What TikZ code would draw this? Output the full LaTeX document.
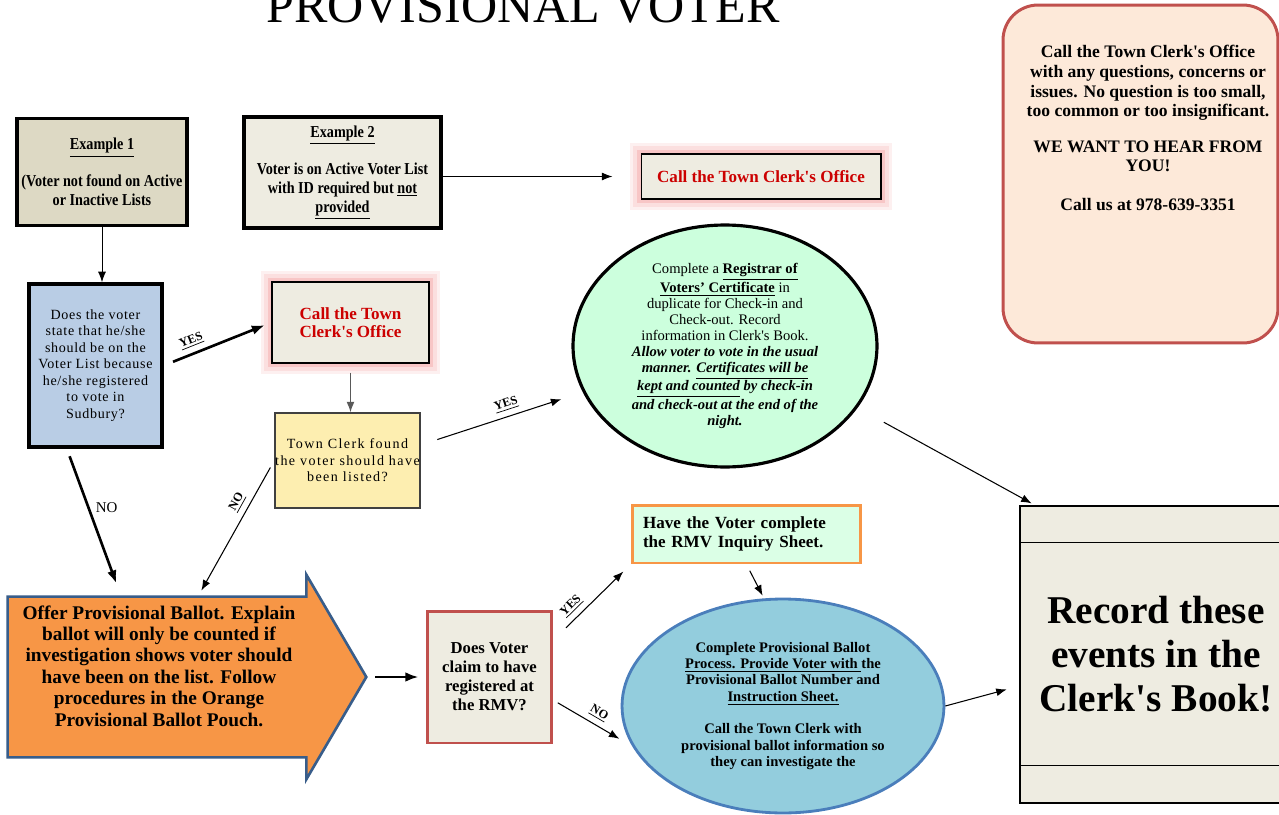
\documentclass[tikz,border=0pt]{standalone}
\usepackage{fontspec}
\setmainfont{Liberation Serif}[Ligatures=TeXOff]
\newfontfamily\narrowfont{Liberation Serif}[FakeStretch=0.85, Ligatures=TeXOff]
\newfontfamily\spacedfont{Liberation Serif}[LetterSpace=5, Ligatures=TeXOff]
\newfontfamily\widefont{Liberation Serif}[LetterSpace=10, Ligatures=TeXOff]
\usetikzlibrary{shapes.geometric,arrows.meta}

\definecolor{examplefill}{HTML}{DDD9C4}
\definecolor{paper}{HTML}{EEECE1}
\definecolor{questionblue}{HTML}{B9CDE5}
\definecolor{foundyellow}{HTML}{FDEEB0}
\definecolor{certgreen}{HTML}{CCFFDD}
\definecolor{rmvgreen}{HTML}{DBFFE6}
\definecolor{ballotorange}{HTML}{F79646}
\definecolor{ballotedge}{HTML}{385D8A}
\definecolor{processblue}{HTML}{93CDDD}
\definecolor{processedge}{HTML}{4A7EBB}
\definecolor{notefill}{HTML}{FDE9D9}
\definecolor{noteedge}{HTML}{C0504D}
\definecolor{clerkred}{HTML}{CC0000}
\definecolor{glowpink}{HTML}{F08080}

\tikzset{
  box/.style={rectangle, align=center, inner sep=0pt},
  heavybox/.style={box, draw, line width=2pt},
  callbox/.style={box, draw, line width=0.6pt, fill=paper, text=clerkred,
    font=\bfseries\fontsize{9.7}{10.3}\selectfont,
    preaction={draw=glowpink!12, line width=13pt, rounded corners=4pt},
    preaction={draw=glowpink!25, line width=9pt, rounded corners=3pt},
    preaction={draw=glowpink!45, line width=5pt, rounded corners=2pt}},
  link/.style={-{Latex[length=6pt,width=4.5pt]}, line width=0.6pt},
  heavylink/.style={-{Latex[length=7.5pt,width=5.5pt]}, line width=1.5pt},
  tag/.style={font=\bfseries\fontsize{7}{8}\selectfont, inner sep=1pt},
}

\begin{document}
\begin{tikzpicture}[x=0.02cm, y=-0.02cm]
 \fill[white] (0,0) rectangle (1279,815);
 \useasboundingbox (0,0) rectangle (1279,815);

 % heading, cut by the top edge
 \node[anchor=base, inner sep=0pt, font=\fontsize{28.5}{30}\selectfont] (title) at (523,22) {PROVISIONAL VOTER};

 % the two starting cases
 \node[heavybox, fill=examplefill, minimum width=3.4cm, minimum height=2.14cm, font=\narrowfont\bfseries\fontsize{9.5}{10.8}\selectfont] (ex1) at (102,172) {\underline{Example 1}\\[10pt](Voter not found on Active\\or Inactive Lists};
 \node[heavybox, fill=paper, minimum width=3.94cm, minimum height=2.22cm, font=\narrowfont\bfseries\fontsize{9.5}{10.8}\selectfont] (ex2) at (342.5,172.5) {\underline{Example 2}\\[10pt]Voter is on Active Voter List\\with ID required but \underline{not}\\\underline{provided}};
 \node[callbox, minimum width=4.8cm, minimum height=0.9cm] (call1) at (761,176.5) {Call the Town Clerk's Office};

 % note in the corner
 \node[box, draw=noteedge, line width=1.7pt, fill=notefill, rounded corners=0.7cm, minimum width=5.5cm, minimum height=6.76cm] (note) at (1140.5,174) {};
 \node[box, anchor=north, font=\bfseries\fontsize{10}{11.2}\selectfont] (notetext) at (1148,45) {Call the Town Clerk's Office\\with any questions, concerns or\\issues. No question is too small,\\too common or too insignificant.\\[9pt]WE WANT TO HEAR FROM\\YOU!\\[11pt]Call us at 978-639-3351};

 % questions
 \node[heavybox, fill=questionblue, minimum width=2.66cm, minimum height=3.26cm, font=\spacedfont\fontsize{8}{9.4}\selectfont] (question) at (95.5,365.5) {Does the voter\\state that he/she\\should be on the\\Voter List because\\he/she registered\\to vote in\\Sudbury?};
 \node[callbox, minimum width=3.14cm, minimum height=1.62cm] (call2) at (350.5,322.5) {Call the Town\\Clerk's Office};
 \node[box, draw=black!75, line width=0.8pt, fill=foundyellow, minimum width=2.9cm, minimum height=1.9cm, font=\widefont\fontsize{8}{9.4}\selectfont] (found) at (347.5,460.5) {Town Clerk found\\the voter should have\\been listed?};

 \node[ellipse, draw, line width=1.8pt, fill=certgreen, minimum width=6.08cm, minimum height=4.84cm, inner sep=0pt, align=center, font=\fontsize{8.3}{9.1}\selectfont] (certificate) at (725,346) {Complete a \underline{\textbf{Registrar of}}\\\underline{\textbf{Voters’ Certificate}} in\\duplicate for Check-in and\\Check-out. Record\\information in Clerk's Book.\\\textbf{\textit{Allow voter to vote in the usual}}\\\textbf{\textit{manner. \underline{Certificates will be}}}\\\textbf{\textit{\underline{kept and counted} by check-in}}\\\textbf{\textit{and check-out at the end of the}}\\\textbf{\textit{night.}}};

 % provisional ballot
 \node[box, minimum width=5.96cm, minimum height=3.2cm] (offer) at (157,677) {};
 \draw[fill=ballotorange, draw=ballotedge, line width=1.5pt] (offer.north west) -- (offer.north east) -- ++(0,-22) -- ([xshift=1.2cm]offer.east) coordinate (tip) -- ([yshift=-0.44cm]offer.south east) -- (offer.south east) -- (offer.south west) -- cycle;
 \node[box, font=\bfseries\fontsize{11}{12.2}\selectfont] (offertext) at (159,666) {Offer Provisional Ballot. Explain\\ballot will only be counted if\\investigation shows voter should\\have been on the list. Follow\\procedures in the Orange\\Provisional Ballot Pouch.};

 \node[box, draw=noteedge, line width=1.7pt, fill=paper, minimum width=2.5cm, minimum height=2.64cm, font=\bfseries\fontsize{9.5}{10.8}\selectfont] (rmv) at (489.5,677) {Does Voter\\claim to have\\registered at\\the RMV?};
 \node[box, draw=ballotorange, line width=1.7pt, fill=rmvgreen, minimum width=4.58cm, minimum height=1.16cm, text width=4.14cm, align=left, font=\bfseries\fontsize{9.7}{10.8}\selectfont] (inquiry) at (746.5,534) {Have the Voter complete\\the RMV Inquiry Sheet.};
 \node[ellipse, draw=processedge, line width=1.6pt, fill=processblue, minimum width=6.44cm, minimum height=4.28cm, inner sep=0pt, align=center, font=\bfseries\fontsize{8.3}{9.3}\selectfont] (process) at (783,706) {Complete Provisional Ballot\\\underline{Process. Provide Voter with }the\\Provisional Ballot Number and\\\underline{Instruction Sheet.}\\[9.3pt]Call the Town Clerk with\\provisional ballot information so\\they can investigate the};

 % clerk's book
 \node[box, draw, line width=0.8pt, fill=paper, minimum width=5.44cm, minimum height=5.94cm, font=\bfseries\fontsize{22.4}{25}\selectfont] (record) at (1156,654.5) {Record these\\events in the\\Clerk's Book!};
 \draw[line width=0.8pt] ([yshift=-0.74cm]record.north west) -- ([yshift=-0.74cm]record.north east);
 \draw[line width=0.8pt] ([yshift=0.76cm]record.south west) -- ([yshift=0.76cm]record.south east);

 % connectors
 \draw[link, shorten >=0.56cm] (ex2.east |- call1.west) -- (call1.west);
 \draw[link, line width=0.5pt] (ex1.south) -- (ex1.south |- question.north);
 \draw[heavylink, shorten <=0.2cm, shorten >=0.14cm] (question.east) -- node[tag, sloped, above=2pt, pos=0.3] (yes1) {\underline{YES}} (call2.west);
 \draw[link, draw=black!65, shorten <=0.18cm] (call2.south) -- (call2.south |- found.north);
 \draw[link, shorten <=0.35cm, shorten >=0.45cm] (found.12) -- node[tag, sloped, above=2pt, pos=0.55] (yes2) {\underline{YES}} (certificate.198);
 \draw[link, shorten <=0.16cm, shorten >=0.14cm] (found.west) -- node[tag, sloped, above=2pt, pos=0.35] (no1) {\underline{NO}} (offer.63);
 \draw[heavylink, shorten <=0.16cm, shorten >=0.28cm] (question.251) -- node[right, pos=0.4, font=\fontsize{8.5}{10}\selectfont] (no2) {NO} (offer.114);
 \draw[heavylink, line width=1.4pt, shorten <=0.18cm, shorten >=0.14cm] (tip) -- (rmv.west);
 \draw[link, shorten <=0.35cm, shorten >=0.2cm] (rmv.30) -- node[tag, sloped, above=2pt, pos=0.34] (yes3) {\underline{YES}} (inquiry.south west);
 \draw[link, shorten <=0.1cm, shorten >=0.3cm] (rmv.-20) -- node[tag, sloped, above=2pt, pos=0.5] (no3) {\underline{NO}} (process.195);
 \draw[link, shorten <=0.14cm, shorten >=0.06cm] (inquiry.south) -- (process.100);
 \draw[link, shorten <=0.6cm, shorten >=0.08cm] (certificate.-25) -- (record.129);
 \draw[link, shorten >=0.26cm] (process.east) -- (record.193);

\end{tikzpicture}
\end{document}
